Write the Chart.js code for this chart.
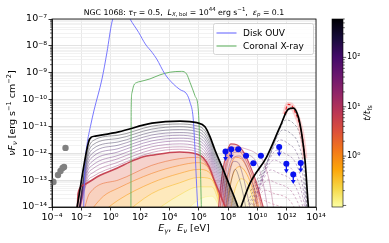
<!DOCTYPE html>
<html><head><meta charset="utf-8">
<script src="https://cdn.jsdelivr.net/npm/chart.js@4.4.0/dist/chart.umd.min.js"></script>
<style>html,body{margin:0;padding:0;background:#fff}canvas{display:block}</style>
</head><body>
<canvas id="c" width="389" height="243"></canvas>
<script>
// ===== DATA: log10(E / eV) and log10(nuF_nu / erg s^-1 cm^-2) =====
const diskLogE = [-1.85,-1.80,-1.73,-1.61,-1.38,-1.13,-0.59,-0.25,0.09,0.5,1.0,1.32,1.91,2.36,2.82,3.14,3.70,4.27,4.73,5.18,5.41,5.63,5.75,5.87,5.95];
const diskLogF = [-14.2,-13.2,-12.25,-11.66,-11.0,-10.39,-9.23,-8.23,-7.11,-6.6,-6.65,-7.0,-7.5,-7.93,-8.24,-8.49,-9.05,-9.42,-9.63,-9.79,-10.10,-10.72,-11.88,-13.3,-14.2];

const coronaLogE = [1.38,1.40,1.45,1.57,1.80,2.0,2.68,3.36,4.05,4.84,5.18,5.41,5.75,5.97,6.09,6.19];
const coronaLogF = [-14.2,-10.3,-9.75,-9.48,-9.36,-9.33,-9.23,-9.08,-8.98,-8.95,-9.05,-9.36,-9.86,-10.35,-11.88,-14.2];

// late-time envelopes (black)
const envLeftLogE = [-2.32,-1.50,-1.32,-1.05,0.55,2.82,4.73,5.87,6.43,6.77,7.11,7.68,8.14,8.59,8.80];
const envLeftLogF = [-14.1,-11.57,-11.40,-11.36,-11.20,-10.88,-10.80,-10.86,-11.01,-11.38,-11.88,-12.62,-13.24,-13.86,-14.2];
const envRightLogE = [8.75,9.50,10.64,11.55,12.11,12.45,12.79,13.02,13.25,13.48,13.52];
const envRightLogF = [-14.2,-13.12,-12.13,-11.01,-10.36,-10.32,-10.64,-11.26,-12.25,-13.99,-14.2];

// left-hump time sequence (purple lines)
const leftGridLogE = [-2.2,-1.6,-1.2,0.5,2.8,4.7,5.8,6.3,6.7,7.1,7.6,8.1,8.6];
const leftTimes = [500,350,250,170,120,85,60,40,27,17];
const leftLogF = [
 [-14.3,-12.00,-11.53,-11.33,-10.99,-10.91,-10.97,-11.08,-11.41,-11.97,-12.63,-13.30,-13.98],
 [-14.3,-12.12,-11.68,-11.45,-11.10,-11.01,-11.08,-11.19,-11.52,-12.08,-12.74,-13.41,-14.09],
 [-14.3,-12.24,-11.83,-11.58,-11.21,-11.12,-11.18,-11.30,-11.63,-12.19,-12.85,-13.52,-14.20],
 [-14.3,-12.36,-11.98,-11.70,-11.32,-11.23,-11.29,-11.41,-11.74,-12.30,-12.96,-13.63,-14.31],
 [-14.3,-12.48,-12.12,-11.83,-11.43,-11.33,-11.40,-11.52,-11.85,-12.41,-13.07,-13.74,-14.42],
 [-14.3,-12.60,-12.28,-11.95,-11.54,-11.44,-11.50,-11.63,-11.96,-12.52,-13.18,-13.85,-14.53],
 [-14.3,-12.71,-12.43,-12.08,-11.65,-11.54,-11.61,-11.74,-12.07,-12.63,-13.29,-13.96,-14.64],
 [-14.3,-12.83,-12.57,-12.20,-11.76,-11.65,-11.72,-11.85,-12.18,-12.74,-13.40,-14.07,-14.75],
 [-14.3,-12.95,-12.72,-12.33,-11.87,-11.76,-11.83,-11.96,-12.29,-12.85,-13.51,-14.18,-14.86],
 [-14.3,-13.06,-12.86,-12.45,-11.97,-11.85,-11.92,-12.06,-12.39,-12.95,-13.61,-14.28,-14.96]
];
// highlighted red curve
const redTime = 6;
const redLogE = [-2.28,-2.22,-1.88,-0.72,0.42,1.33,2.23,2.8,4.7,5.8,6.3,6.7,7.1,7.6,8.1];
const redLogF = [-14.2,-13.49,-13.19,-12.82,-12.56,-12.32,-12.13,-12.07,-11.95,-12.02,-12.16,-12.49,-13.05,-13.71,-14.38];
// early times (yellow/orange)
const earlyTimes = [2,1.2,0.7,0.4,0.22,0.12];
const earlyLogE = [[-1.9,-1.45,0.5,2.8,4.7,5.9,6.5,7.0,7.5,7.8],[-1.6,-0.5,0.5,2.8,4.7,5.9,6.6,7.1,7.6,7.8],[-0.8,0.5,2.8,4.7,6.0,6.7,7.2,7.6],[0.8,2.8,4.7,6.0,6.8,7.3,7.6],[2.6,4.7,6.0,6.9,7.3,7.55],[4.8,6.1,6.9,7.3,7.5]];
const earlyLogF = [[-14.3,-13.5,-13.0,-12.45,-12.2,-12.15,-12.4,-13.0,-13.8,-14.3],[-14.3,-13.6,-13.3,-12.75,-12.45,-12.35,-12.5,-13.1,-14.0,-14.3],[-14.3,-13.75,-13.1,-12.75,-12.6,-12.7,-13.3,-14.3],[-14.3,-13.5,-13.1,-12.9,-12.95,-13.5,-14.3],[-14.3,-13.55,-13.25,-13.25,-13.7,-14.3],[-14.3,-13.7,-13.6,-13.9,-14.3]];

// middle (cascade) hump
const midTimes = [6,3,1.5,0.7,0.3];
const midLogE = [[7.3,7.6,7.9,8.2,8.6,9.0,9.5,10.0,10.4,10.6],[7.4,7.7,8.0,8.3,8.7,9.1,9.6,10.1,10.4],[7.6,7.9,8.2,8.5,8.9,9.3,9.8,10.2],[7.8,8.1,8.4,8.8,9.2,9.6,10.0,10.1],[8.1,8.5,8.9,9.3,9.7,9.9]];
const midLogF = [[-14.3,-12.8,-12.0,-11.65,-11.68,-11.9,-12.45,-13.2,-14.0,-14.3],[-14.3,-12.95,-12.2,-11.88,-11.9,-12.15,-12.75,-13.6,-14.3],[-14.3,-13.1,-12.45,-12.15,-12.2,-12.55,-13.3,-14.3],[-14.3,-13.3,-12.7,-12.5,-12.7,-13.2,-14.0,-14.3],[-14.3,-13.3,-12.95,-13.1,-13.7,-14.3]];
const midLateTimes = [15,30,60,120,250];
const midLateLogE = [[7.45,7.8,8.2,8.7,9.3,9.9,10.4,10.8,11.1,11.2],[7.55,7.9,8.3,8.8,9.4,9.9,10.3,10.6,10.8],[7.7,8.0,8.4,8.8,9.2,9.6,9.9,10.1],[7.8,8.1,8.4,8.7,9.0,9.3,9.6],[7.9,8.2,8.5,8.8,9.1,9.3]];
const midLateLogF = [[-14.3,-12.5,-11.85,-11.78,-11.85,-12.0,-12.3,-13.0,-14.0,-14.4],[-14.3,-12.6,-12.0,-11.95,-12.05,-12.3,-12.9,-13.7,-14.4],[-14.3,-12.7,-12.15,-12.1,-12.4,-13.0,-13.7,-14.4],[-14.3,-12.8,-12.3,-12.35,-12.8,-13.5,-14.3],[-14.3,-13.1,-12.6,-13.0,-13.7,-14.3]];

// neutrino hump (dashed)
const nuTimes = [400,250,150,90,55,35,22,14,9];
const nuLogE = [
 [9.55,10.75,11.45,11.95,12.45,12.9,13.2,13.42],
 [9.35,10.55,11.25,11.75,12.25,12.8,13.15,13.4],
 [9.15,10.35,11.05,11.55,12.05,12.7,13.1,13.38],
 [9.0,10.15,10.85,11.34,11.85,12.6,13.05,13.35],
 [9.0,9.95,10.65,11.14,11.65,12.5,13.0,13.3],
 [9.0,9.75,10.45,10.93,11.45,12.4,12.95,13.2],
 [9.0,9.55,10.25,10.73,11.25,12.3,12.9,13.1],
 [9.35,10.05,10.52,11.05,12.2,12.8],
 [9.5,9.85,10.32,10.85,12.0,12.4]];
const nuLogF = [
 [-13.4,-12.2,-11.2,-10.76,-10.88,-11.3,-12.2,-14.2],
 [-13.8,-12.5,-11.5,-11.13,-11.25,-11.65,-12.5,-14.2],
 [-14.2,-12.85,-11.85,-11.50,-11.62,-12.0,-12.8,-14.2],
 [-14.5,-13.2,-12.2,-11.88,-12.0,-12.35,-13.1,-14.2],
 [-14.8,-13.55,-12.55,-12.25,-12.37,-12.7,-13.4,-14.2],
 [-15.0,-13.92,-12.92,-12.62,-12.74,-13.05,-13.7,-14.2],
 [-15.2,-14.3,-13.3,-12.99,-13.1,-13.4,-14.0,-14.3],
 [-14.65,-13.67,-13.37,-13.48,-13.75,-14.3],
 [-14.8,-14.05,-13.74,-13.85,-14.1,-14.3]];
const nuRedLogE = [11.85,12.1,12.3,12.6,12.9,13.1,13.25];
const nuRedLogF = [-10.55,-10.18,-10.2,-10.5,-10.95,-11.5,-12.2];

// observations
const grayLogE = [-3.98,-3.90,-3.59,-3.42,-3.28,-3.18,-3.08];
const grayLogF = [-13.05,-13.07,-12.81,-12.66,-12.55,-12.51,-11.80];
const blueLogE = [7.83,8.22,8.70,9.23,9.73,10.24,11.49,11.98,12.45,12.96];
const blueLogF = [-11.93,-11.85,-11.85,-12.09,-12.37,-12.09,-11.77,-12.39,-12.79,-12.36];
const blueUpperLimit = [true,true,false,false,false,false,true,true,true,true];
const blueErrLogE = [0,0,0.2,0.2,0.2,0.2,0,0,0,0];

// axes
const xTickExp = [-4,-2,0,2,4,6,8,10,12,14];
const yTickExp = [-14,-13,-12,-11,-10,-9,-8,-7];
const cbTickExp = [0,1,2];
const T_MIN = 0.093, T_MAX = 600;

// ===== styling helpers =====
const FAM = '"DejaVu Sans", "Liberation Sans", sans-serif';
const INF = [[0,0,4],[22,11,57],[66,10,104],[106,23,110],[147,38,103],[188,55,84],[221,81,58],[243,120,25],[252,165,10],[246,215,70],[252,255,164]];
function inferno(f){f=Math.min(1,Math.max(0,f));const p=f*10,i=Math.min(9,Math.floor(p)),r=p-i;return INF[i].map((c,j)=>Math.round(c+(INF[i+1][j]-c)*r));}
function tRGB(t){const f=(Math.log10(t)-Math.log10(T_MIN))/(Math.log10(T_MAX)-Math.log10(T_MIN));return inferno(1-f);}
const rgba=(c,a)=>`rgba(${c[0]},${c[1]},${c[2]},${a})`;
const lighten=(c,a)=>c.map(v=>Math.round(255-(255-v)*a));
const pts=(xs,ys)=>xs.map((x,i)=>({x:Math.pow(10,x),y:Math.pow(10,ys[i])}));
const SUP={'-':'⁻','0':'⁰','1':'¹','2':'²','3':'³','4':'⁴','5':'⁵','6':'⁶','7':'⁷','8':'⁸','9':'⁹'};
const powLabel=e=>'10'+String(e).split('').map(ch=>SUP[ch]).join('');
function lineDs(label,xs,ys,color,width,order,extra){
  return Object.assign({label,data:pts(xs,ys),showLine:true,borderColor:color,backgroundColor:color,borderWidth:width,
    pointRadius:0,pointHoverRadius:0,cubicInterpolationMode:'monotone',fill:false,order},extra||{});
}

// ===== datasets =====
const datasets = [];
datasets.push({label:'obs-gray',data:pts(grayLogE,grayLogF),showLine:false,pointRadius:3.2,pointBackgroundColor:'#808080',pointBorderWidth:0,backgroundColor:'#808080',order:0});
datasets.push({label:'obs-blue',data:pts(blueLogE,blueLogF),showLine:false,pointRadius:3,pointBackgroundColor:'#0a14f0',pointBorderWidth:0,backgroundColor:'#0a14f0',order:0,upperLimit:blueUpperLimit,errLogE:blueErrLogE,logE:blueLogE});
datasets.push(lineDs('env-left',envLeftLogE,envLeftLogF,'#000',1.7,1));
datasets.push(lineDs('env-right',envRightLogE,envRightLogF,'#000',1.7,1));
datasets.push(lineDs('Disk OUV',diskLogE,diskLogF,'rgba(105,105,255,0.9)',1.0,2,{legend:true}));
datasets.push(lineDs('Coronal X-ray',coronaLogE,coronaLogF,'rgba(95,175,95,0.9)',1.0,2,{legend:true}));
datasets.push(lineDs('nu-red',nuRedLogE,nuRedLogF,'rgba(235,25,30,0.95)',1.1,3,{borderDash:[3,2]}));
datasets.push(lineDs('nu-red-band',nuRedLogE,nuRedLogF,'rgba(255,90,90,0.25)',5,4));
datasets.push(lineDs('red',redLogE,redLogF,rgba(tRGB(redTime),0.95),1.6,5));
leftTimes.forEach((t,k)=>datasets.push(lineDs('left-'+t,leftGridLogE,leftLogF[k],rgba(tRGB(t),0.5),0.75,6)));
nuTimes.forEach((t,k)=>datasets.push(lineDs('nu-'+t,nuLogE[k],nuLogF[k],rgba(tRGB(t),0.45),0.75,7,{borderDash:[2.5,1.8]})));
midLateTimes.forEach((t,k)=>datasets.push(lineDs('midlate-'+t,midLateLogE[k],midLateLogF[k],rgba(tRGB(t),0.45),0.75,8)));
// filled early-time curves (upper ones drawn first)
const FILL_A = 0.3;
datasets.push(lineDs('red-fill',redLogE,redLogF,'rgba(0,0,0,0)',0,40,{fill:'start',backgroundColor:rgba(lighten(tRGB(3),0.26),1)}));
earlyTimes.forEach((t,k)=>datasets.push(lineDs('early-'+t,earlyLogE[k],earlyLogF[k],rgba(tRGB(t),0.75),0.7,39-k,{fill:'start',backgroundColor:rgba(lighten(tRGB(t),FILL_A),1)})));
midTimes.forEach((t,k)=>datasets.push(lineDs('mid-'+t,midLogE[k],midLogF[k],rgba(tRGB(t),0.85),k===0?1.2:0.7,30-k,{fill:'start',backgroundColor:rgba(lighten(tRGB(t),0.24),1)})));

// ===== rich text helper =====
function drawRich(ctx,segs,x,y,size,rot){
  ctx.save();ctx.translate(x,y);if(rot)ctx.rotate(rot);
  const f=s=>`${s.it?'italic ':''}${(s.sc||1)*size}px ${FAM}`;
  let w=0;segs.forEach(s=>{ctx.font=f(s);s.w=ctx.measureText(s.t).width;w+=s.w;});
  let cx=-w/2;ctx.textBaseline='middle';ctx.textAlign='left';ctx.fillStyle='#000';
  segs.forEach(s=>{ctx.font=f(s);ctx.fillText(s.t,cx,(s.dy||0)*size);cx+=s.w;});
  ctx.restore();return w;
}
const SUB={sc:0.7,dy:0.28}, SUPS={sc:0.7,dy:-0.38};
const titleSegs=[{t:'NGC 1068: '},{t:'τ',it:1},Object.assign({t:'T',it:1},SUB),{t:' = 0.5,  '},{t:'L',it:1},Object.assign({t:'X',it:1},SUB),Object.assign({t:', bol'},SUB),{t:' = 10'},Object.assign({t:'44'},SUPS),{t:' erg s'},Object.assign({t:'−1'},SUPS),{t:',  '},{t:'ε',it:1},Object.assign({t:'p',it:1},SUB),{t:' = 0.1'}];
const ySegs=[{t:'νF',it:1},Object.assign({t:'ν',it:1},SUB),{t:' [erg s'},Object.assign({t:'−1'},SUPS),{t:' cm'},Object.assign({t:'−2'},SUPS),{t:']'}];
const xSegs=[{t:'E',it:1},Object.assign({t:'γ',it:1},SUB),{t:',  '},{t:'E',it:1},Object.assign({t:'ν',it:1},SUB),{t:' [eV]'}];
const cbSegs=[{t:'t/t',it:1},Object.assign({t:'fs'},SUB)];

const overlay = {
  id:'overlay',
  afterDatasetsDraw(chart){
    const ctx=chart.ctx,xs=chart.scales.x;
    chart.data.datasets.forEach((ds,di)=>{
      if(!ds.upperLimit)return;
      const meta=chart.getDatasetMeta(di);
      meta.data.forEach((p,i)=>{
        ctx.save();ctx.strokeStyle=ds.backgroundColor;ctx.fillStyle=ds.backgroundColor;ctx.lineWidth=1.3;
        if(ds.upperLimit[i]){
          ctx.beginPath();ctx.moveTo(p.x,p.y);ctx.lineTo(p.x,p.y+6.5);ctx.stroke();
          ctx.beginPath();ctx.moveTo(p.x-2.4,p.y+5.5);ctx.lineTo(p.x+2.4,p.y+5.5);ctx.lineTo(p.x,p.y+9.5);ctx.closePath();ctx.fill();
        } else if(ds.errLogE[i]){
          const xl=xs.getPixelForValue(Math.pow(10,ds.logE[i]-ds.errLogE[i])),xr=xs.getPixelForValue(Math.pow(10,ds.logE[i]+ds.errLogE[i]));
          ctx.beginPath();ctx.moveTo(xl,p.y);ctx.lineTo(xr,p.y);ctx.stroke();
        }
        ctx.restore();
      });
    });
  },
  afterDraw(chart){
    const ctx=chart.ctx,a=chart.chartArea,ys=chart.scales.y,cb=chart.scales.cb;
    ctx.save();
    ctx.strokeStyle='#000';ctx.lineWidth=0.8;ctx.strokeRect(a.left,a.top,a.right-a.left,a.bottom-a.top);
    ctx.lineWidth=0.6;
    ys.ticks.forEach(t=>{const e=Math.log10(t.value);if(Math.abs(e-Math.round(e))>1e-6){const py=ys.getPixelForValue(t.value);ctx.beginPath();ctx.moveTo(a.left-2,py);ctx.lineTo(a.left,py);ctx.stroke();}});
    const x0=332,x1=343;
    const g=ctx.createLinearGradient(0,a.bottom,0,a.top);
    for(let i=0;i<=10;i++){g.addColorStop(i/10,rgba(INF[10-i],1));}
    ctx.fillStyle=g;ctx.fillRect(x0,a.top,x1-x0,a.bottom-a.top);
    ctx.strokeStyle='#000';ctx.lineWidth=0.6;ctx.strokeRect(x0,a.top,x1-x0,a.bottom-a.top);
    for(let d=-2;d<=2;d++){for(let m=1;m<=9;m++){const v=m*Math.pow(10,d);if(v<T_MIN||v>T_MAX)continue;const py=cb.getPixelForValue(v);const L=m===1?3.2:1.8;ctx.beginPath();ctx.moveTo(x1,py);ctx.lineTo(x1+L,py);ctx.stroke();}}
    const lx=213.5,ly=23.5,lw=100,lh=31;
    ctx.fillStyle='rgba(255,255,255,0.85)';ctx.strokeStyle='#cccccc';ctx.lineWidth=0.8;
    ctx.beginPath();ctx.roundRect(lx,ly,lw,lh,2);ctx.fill();ctx.stroke();
    const items=chart.data.datasets.filter(d=>d.legend);
    items.forEach((d,i)=>{const yy=ly+9.5+i*13;ctx.strokeStyle=d.borderColor;ctx.lineWidth=1.2;ctx.beginPath();ctx.moveTo(lx+3,yy);ctx.lineTo(lx+23,yy);ctx.stroke();
      ctx.fillStyle='#000';ctx.font=`9px ${FAM}`;ctx.textBaseline='middle';ctx.textAlign='left';ctx.fillText(d.label,lx+29.5,yy+0.5);});
    ctx.restore();
    const wt=drawRich(ctx,titleSegs,-1000,-1000,10,0);
    drawRich(ctx,titleSegs,(a.left+a.right)/2,12.5,10*201/wt,0);
    drawRich(ctx,ySegs,13,(a.top+a.bottom)/2,9.5,-Math.PI/2);
    drawRich(ctx,xSegs,(a.left+a.right)/2,229,9.5,0);
    drawRich(ctx,cbSegs,368,(a.top+a.bottom)/2,9,-Math.PI/2);
  }
};

const isMajor=v=>{const e=Math.log10(v);return Math.abs(e-Math.round(e))<1e-6;};
const yTickVals=[];
for(let i=0;i<yTickExp.length;i++){const e=yTickExp[i];yTickVals.push(Math.pow(10,e));if(i<yTickExp.length-1){for(let m=2;m<=9;m++)yTickVals.push(m*Math.pow(10,e));}}
const noPad=s=>{s.paddingTop=0;s.paddingBottom=0;s.paddingLeft=0;s.paddingRight=0;};

new Chart(document.getElementById('c'),{
  type:'scatter',
  data:{datasets},
  options:{
    responsive:false,animation:false,devicePixelRatio:1,
    layout:{padding:{top:19,left:0,right:0,bottom:0}},
    plugins:{legend:{display:false},tooltip:{enabled:false},title:{display:false}},
    events:[],
    scales:{
      x:{type:'logarithmic',position:'bottom',min:1e-4,max:1e14,
        afterBuildTicks:s=>{s.ticks=xTickExp.map(e=>({value:Math.pow(10,e)}));},
        afterFit:s=>{s.height=36;noPad(s);},
        ticks:{autoSkip:false,maxRotation:0,minRotation:0,padding:1.5,color:'#000',font:{family:FAM,size:9.5},callback:v=>powLabel(Math.round(Math.log10(v)))},
        grid:{color:'#e2e2e2',lineWidth:0.8,tickLength:3.5,tickColor:'#000',tickWidth:0.8},
        border:{color:'#000',width:0.8}},
      y:{type:'logarithmic',position:'left',min:1e-14,max:1e-7,
        afterBuildTicks:s=>{s.ticks=yTickVals.map(v=>({value:v}));},
        afterFit:s=>{s.width=52;noPad(s);},
        ticks:{autoSkip:false,padding:1.5,color:'#000',font:{family:FAM,size:9.5},callback:v=>isMajor(v)?powLabel(Math.round(Math.log10(v))):''},
        grid:{color:c=>(c.tick&&isMajor(c.tick.value))?'#dcdcdc':'#efefef',lineWidth:0.8,tickLength:3.5,tickColor:c=>(c.tick&&isMajor(c.tick.value))?'#000':'rgba(0,0,0,0)',tickWidth:0.8},
        border:{color:'#000',width:0.8}},
      cb:{type:'logarithmic',position:'right',min:T_MIN,max:T_MAX,
        afterBuildTicks:s=>{s.ticks=cbTickExp.map(e=>({value:Math.pow(10,e)}));},
        afterFit:s=>{s.width=73;noPad(s);},
        ticks:{autoSkip:false,padding:31,color:'#000',font:{family:FAM,size:8},callback:v=>powLabel(Math.round(Math.log10(v)))},
        grid:{display:false,drawTicks:false},
        border:{display:false}}
    }
  },
  plugins:[overlay]
});
</script>
</body></html>
